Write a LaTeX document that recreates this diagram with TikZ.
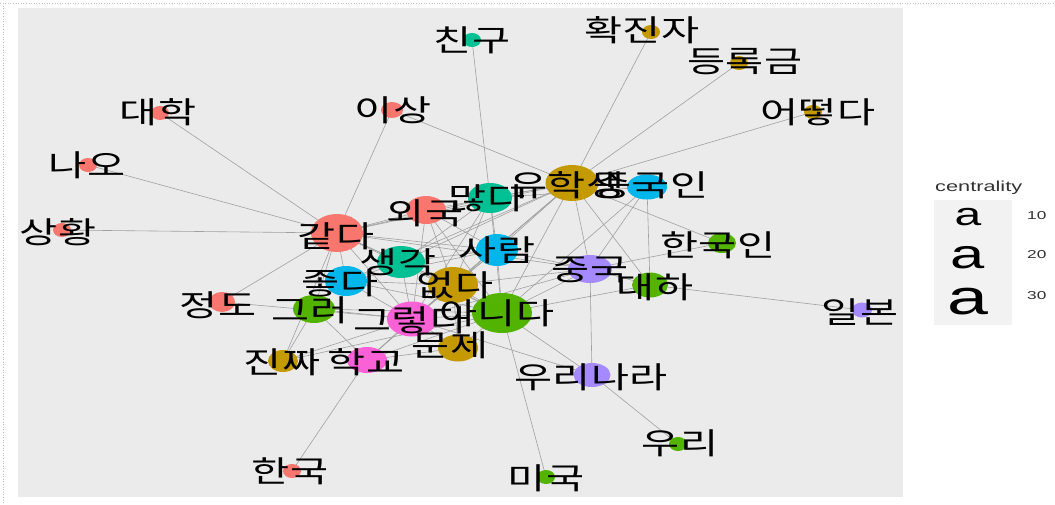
\documentclass[tikz,border=0pt]{standalone}
\usepackage{fontspec}
\usetikzlibrary{shapes.geometric}
\newfontfamily\kr[FakeStretch=1.38]{Noto Sans CJK KR}
\newfontfamily\lgd[FakeStretch=1.5]{Liberation Sans}
\definecolor{cR}{HTML}{F8766D}
\definecolor{cY}{HTML}{C49A00}
\definecolor{cG}{HTML}{53B400}
\definecolor{cT}{HTML}{00C094}
\definecolor{cB}{HTML}{00B6EB}
\definecolor{cP}{HTML}{A58AFF}
\definecolor{cM}{HTML}{FB61D7}
\definecolor{panel}{HTML}{EBEBEB}
\definecolor{keybg}{HTML}{F2F2F2}
\definecolor{edgec}{HTML}{A0A0A0}
\pgfdeclarelayer{bg}
\pgfdeclarelayer{edges}
\pgfsetlayers{bg,edges,main}
\begin{document}
\begin{tikzpicture}[x=1pt,y=-1pt,
  pt/.style={ellipse,inner sep=0pt,draw=none},
  lbl/.style={inner sep=0pt,font=\kr\fontsize{30}{30}\selectfont,text=black},
  edge/.style={draw=edgec,line width=0.6pt},
  keya/.style={inner sep=0pt,text=black},
  lgdtxt/.style={inner sep=0pt,font=\lgd\fontsize{14.5}{14.5}\selectfont,text=black!80},
  lgdnum/.style={inner sep=0pt,font=\lgd\fontsize{11.5}{11.5}\selectfont,text=black!80,anchor=west}]
\useasboundingbox (0,0) rectangle (1055,504);
\begin{pgfonlayer}{bg}
  \fill[white] (0,0) rectangle (1055,504);
  \fill[panel] (18,8) rectangle (903,497);
  \draw[black!25,dotted,line width=0.6pt] (0,3) -- (1055,3);
  \draw[black!25,dotted,line width=0.6pt] (3,3) -- (3,504);
\end{pgfonlayer}
% node points
\newcommand{\np}[6]{\node[pt,fill=#2,minimum width=#5pt,minimum height=#6pt] (#1) at (#3,#4) {};}
\np{chingu}{cT}{472}{40}{18}{14}
\np{hwakjin}{cY}{651}{32}{18}{14}
\np{deungrok}{cY}{739}{63}{18}{14}
\np{eotteot}{cY}{813}{112}{18}{14}
\np{daehak}{cR}{160}{113}{18}{14}
\np{isang}{cR}{392}{110}{22}{16}
\np{nao}{cR}{88}{165}{18}{14}
\np{sanghwang}{cR}{62}{230}{18}{14}
\np{gatda}{cR}{337}{233}{52}{38}
\np{oeguk}{cR}{426}{210}{40}{28}
\np{manta}{cT}{490}{198}{44}{30}
\np{yuhak}{cY}{572}{183}{53}{36}
\np{jgin}{cB}{647}{187}{40}{25}
\np{saram}{cB}{497}{250}{42}{32}
\np{saeng}{cT}{401}{262}{48}{32}
\np{jota}{cB}{346}{281}{42}{30}
\np{eopda}{cY}{453}{285}{50}{36}
\np{jguk}{cP}{590}{269}{44}{28}
\np{daeha}{cG}{650}{285}{36}{25}
\np{hgin}{cG}{722}{243}{28}{20}
\np{ilbon}{cP}{862}{310}{20}{15}
\np{jeongdo}{cR}{222}{302}{26}{20}
\np{geureo}{cG}{314}{309}{42}{28}
\np{geureot}{cM}{412}{319}{50}{35}
\np{anida}{cG}{502}{313}{60}{40}
\np{munje}{cY}{458}{348}{40}{27}
\np{jinjja}{cY}{283}{361}{30}{22}
\np{hakgyo}{cM}{367}{360}{40}{26}
\np{urinara}{cP}{592}{375}{37}{24}
\np{uri}{cG}{678}{444}{18}{14}
\np{miguk}{cG}{546}{477}{18}{14}
\np{hanguk}{cR}{292}{471}{18}{14}
% edges
\begin{pgfonlayer}{edges}
\foreach \a/\b in {chingu/manta,hwakjin/yuhak,deungrok/yuhak,eotteot/yuhak,isang/yuhak,isang/gatda,
  daehak/gatda,nao/gatda,sanghwang/gatda,jeongdo/gatda,jeongdo/geureot,ilbon/daeha,hgin/yuhak,hgin/jguk,
  uri/urinara,miguk/anida,hanguk/hakgyo,urinara/jguk,urinara/anida,urinara/geureot,
  gatda/oeguk,gatda/manta,gatda/yuhak,gatda/saram,gatda/saeng,gatda/jota,gatda/eopda,gatda/jguk,
  gatda/geureo,gatda/geureot,gatda/anida,gatda/jinjja,
  oeguk/yuhak,oeguk/saram,oeguk/eopda,oeguk/anida,oeguk/geureot,
  manta/yuhak,manta/jgin,manta/saram,manta/eopda,manta/anida,manta/geureot,manta/saeng,
  yuhak/jgin,yuhak/saram,yuhak/saeng,yuhak/eopda,yuhak/jguk,yuhak/daeha,yuhak/anida,yuhak/geureot,yuhak/jota,
  jgin/jguk,jgin/anida,jgin/daeha,
  saram/saeng,saram/eopda,saram/jguk,saram/geureot,saram/anida,saram/jota,
  saeng/jota,saeng/eopda,saeng/geureot,saeng/anida,
  jota/eopda,jota/geureot,jota/anida,
  eopda/geureot,eopda/anida,eopda/jguk,eopda/munje,eopda/hakgyo,
  jguk/anida,jguk/daeha,jguk/geureot,
  geureo/geureot,geureo/anida,geureo/hakgyo,geureo/jinjja,
  geureot/anida,geureot/munje,geureot/hakgyo,geureot/jinjja,
  anida/munje,anida/hakgyo,anida/jinjja,anida/daeha,munje/hakgyo}
  \draw[edge] (\a.center) -- (\b.center);
\end{pgfonlayer}
% labels
\node[lbl] (t-chingu) at (472,40) {친구};
\node[lbl] (t-hwakjin) at (642,30) {확진자};
\node[lbl] (t-deungrok) at (745,62) {등록금};
\node[lbl] (t-eotteot) at (818,112) {어떻다};
\node[lbl] (t-daehak) at (158,112) {대학};
\node[lbl] (t-isang) at (393,110) {이상};
\node[lbl] (t-nao) at (87,165) {나오};
\node[lbl] (t-sanghwang) at (58,232) {상황};
\node[lbl] (t-gatda) at (336,236) {같다};
\node[lbl] (t-oeguk) at (425,213) {외국};
\node[lbl] (t-manta) at (487,198) {많다};
\node[lbl] (t-yuhak) at (567,185) {유학생};
\node[lbl] (t-jgin) at (651,185) {중국인};
\node[lbl] (t-saram) at (497,250) {사람};
\node[lbl] (t-saeng) at (398,262) {생각};
\node[lbl] (t-jota) at (340,283) {좋다};
\node[lbl] (t-eopda) at (455,285) {없다};
\node[lbl] (t-jguk) at (590,270) {중국};
\node[lbl] (t-daeha) at (655,287) {대하};
\node[lbl] (t-hgin) at (718,245) {한국인};
\node[lbl] (t-ilbon) at (860,312) {일본};
\node[lbl] (t-jeongdo) at (218,305) {정도};
\node[lbl] (t-geureo) at (310,310) {그러};
\node[lbl] (t-geureot) at (411,320) {그렇다};
\node[lbl] (t-anida) at (497,313) {아니다};
\node[lbl] (t-munje) at (450,345) {문제};
\node[lbl] (t-jinjja) at (282,362) {진짜};
\node[lbl] (t-hakgyo) at (366,362) {학교};
\node[lbl] (t-urinara) at (591,377) {우리나라};
\node[lbl] (t-uri) at (680,443) {우리};
\node[lbl] (t-miguk) at (546,478) {미국};
\node[lbl] (t-hanguk) at (290,471) {한국};
% legend
\node[lgdtxt,anchor=west] (lg-title) at (935,188) {centrality};
\fill[keybg] (934,200) rectangle (1012,325);
\node[keya,font=\lgd\fontsize{32}{32}\selectfont] (lg-a1) at (968,217) {a};
\node[keya,font=\lgd\fontsize{41}{41}\selectfont] (lg-a2) at (968,258) {a};
\node[keya,font=\lgd\fontsize{49}{49}\selectfont] (lg-a3) at (968,302) {a};
\node[lgdnum] (lg-10) at (1027,216) {10};
\node[lgdnum] (lg-20) at (1027,255) {20};
\node[lgdnum] (lg-30) at (1027,296) {30};
\end{tikzpicture}
\end{document}
